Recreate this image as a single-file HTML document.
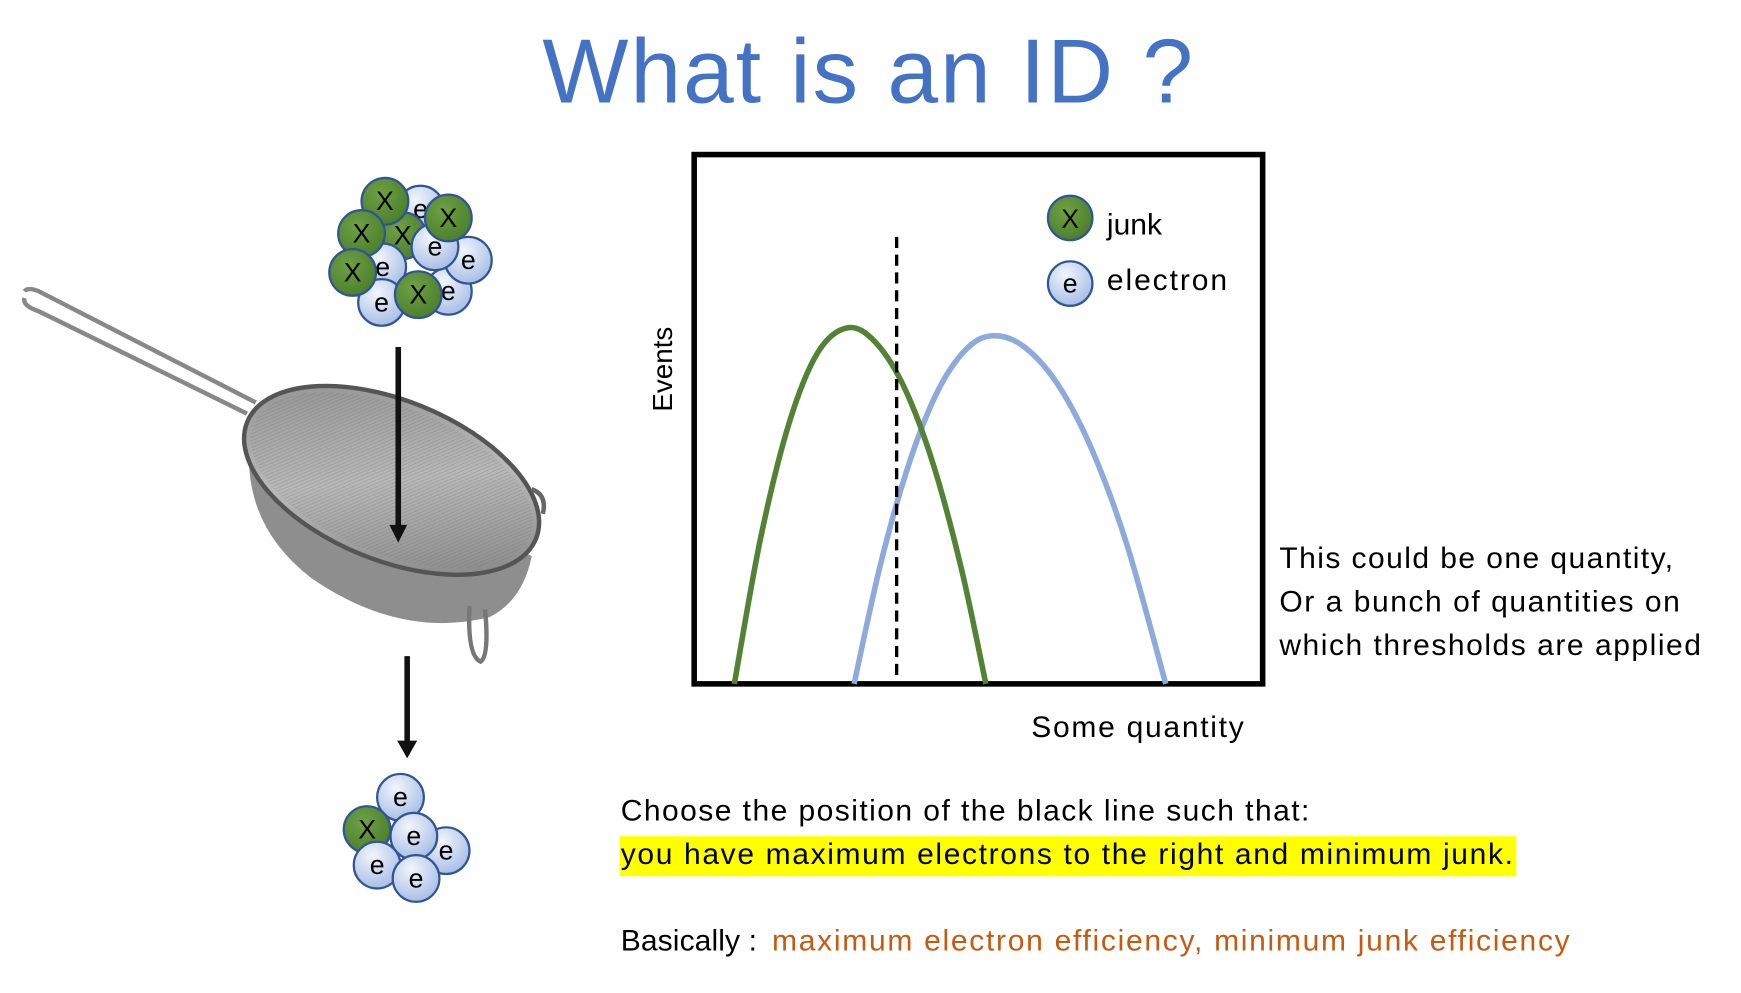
<!DOCTYPE html>
<html><head><meta charset="utf-8"><style>
html,body{margin:0;padding:0;background:#fff;width:1741px;height:993px;overflow:hidden}
svg{display:block}
text{font-family:"Liberation Sans",sans-serif}
</style></head><body>
<svg id="s" width="1741" height="993" viewBox="0 0 1565 893" preserveAspectRatio="none">
<defs>
<radialGradient id="gG" cx="40%" cy="35%" r="70%"><stop offset="0" stop-color="#6fa244"/><stop offset="1" stop-color="#497d2a"/></radialGradient>
<radialGradient id="gB" cx="40%" cy="30%" r="70%"><stop offset="0" stop-color="#f2f5fc"/><stop offset="1" stop-color="#a9bfe6"/></radialGradient>
<linearGradient id="mesh" x1="0" y1="0" x2="1" y2="1"><stop offset="0" stop-color="#8a8a8a"/><stop offset=".5" stop-color="#b9b9b9"/><stop offset="1" stop-color="#7a7a7a"/></linearGradient>
<pattern id="hatch" width="4" height="4" patternUnits="userSpaceOnUse"><path d="M0 4L4 0" stroke="#777" stroke-width=".6"/></pattern>
</defs>
<text x="780" y="92" text-anchor="middle" font-size="82" textLength="585" fill="#4472c4">What is an ID ?</text>

<g>
<path d="M22 262 Q25 258 35 262 L230 362" stroke="#888" stroke-width="4" fill="none"/>
<path d="M22 268 Q20 275 35 280 L222 372" stroke="#888" stroke-width="4" fill="none"/>
<path d="M225 390 Q215 470 280 520 Q360 575 440 555 Q470 540 478 500 Z" fill="#8e8e8e"/>
<ellipse cx="352" cy="432" rx="140" ry="72" transform="rotate(22 352 432)" fill="url(#mesh)" stroke="#555" stroke-width="4"/>
<ellipse cx="352" cy="432" rx="134" ry="66" transform="rotate(22 352 432)" fill="url(#hatch)" opacity=".5"/>
<path d="M478 440 Q492 445 488 462" stroke="#666" stroke-width="4" fill="none"/>
<path d="M422 545 Q420 590 432 595 Q440 590 436 548" stroke="#777" stroke-width="4" fill="none"/>
</g>
<g><line x1="358" y1="312" x2="358" y2="475" stroke="#111" stroke-width="5"/><polygon points="350,472 366,472 358,488" fill="#111"/></g>
<g><line x1="366" y1="590" x2="366" y2="668" stroke="#111" stroke-width="5"/><polygon points="357,666 375,666 366,682" fill="#111"/></g>
<g id="clusters" font-size="24" text-anchor="middle"></g>

<g>
<rect x="624" y="139" width="511" height="476" fill="#fff" stroke="#000" stroke-width="5"/>
<g id="curves"></g>
<line x1="806" y1="213" x2="806" y2="614" stroke="#000" stroke-width="3" stroke-dasharray="10,6"/>
<g><circle cx="962" cy="196" r="20" fill="url(#gG)" stroke="#2f5597" stroke-width="2"/><text x="962" y="205" font-size="24" text-anchor="middle">X</text><text x="995" y="211" font-size="27">junk</text></g>
<g><circle cx="962" cy="255" r="20" fill="url(#gB)" stroke="#2f5597" stroke-width="2"/><text x="962" y="263" font-size="24" text-anchor="middle">e</text><text x="995" y="261" font-size="27" textLength="108">electron</text></g>
<text transform="translate(604 332) rotate(-90)" text-anchor="middle" font-size="25">Events</text>
<text x="927" y="663" font-size="27" textLength="191">Some quantity</text>
</g>
<g font-size="27">
<text x="1150" y="511" textLength="354">This could be one quantity,</text>
<text x="1150" y="550" textLength="360">Or a bunch of quantities on</text>
<text x="1150" y="589" textLength="379">which thresholds are applied</text>
</g>
<text x="558" y="738" font-size="27" textLength="619">Choose the position of the black line such that:</text>
<rect x="557" y="752" width="806" height="36" fill="#ffff00"/>
<text x="558" y="777" font-size="27" textLength="802">you have maximum electrons to the right and minimum junk.</text>
<text x="558" y="855" font-size="27"><tspan textLength="130">Basically : </tspan><tspan x="694" fill="#c55a11" textLength="717">maximum electron efficiency, minimum junk efficiency</tspan></text>
</svg>
<script>
const junkX=[7.4,12,17,22,27.2,32,37,42,47,51.3];
const junkY=[0,27.5,49.2,62.4,67,64.3,55.9,41.7,21.8,0];
const elecX=[28.3,33,38,43,48,52.6,58,64,70,76,82.7];
const elecY=[0,22.9,41.8,55.3,63.1,65.5,63.4,56.1,43.6,25.9,0];
const NS='http://www.w3.org/2000/svg';
function sx(v){return 622+v/100*515;}
function sy(v){return 615-v/100*478;}
function smooth(xs,ys){
  const p=xs.map((x,i)=>[sx(x),sy(ys[i])]);
  let d='M'+p[0][0]+' '+p[0][1];
  for(let i=0;i<p.length-1;i++){
    const p0=p[i-1]||p[i],p1=p[i],p2=p[i+1],p3=p[i+2]||p2;
    d+=' C'+(p1[0]+(p2[0]-p0[0])/6)+' '+(p1[1]+(p2[1]-p0[1])/6)+' '+(p2[0]-(p3[0]-p1[0])/6)+' '+(p2[1]-(p3[1]-p1[1])/6)+' '+p2[0]+' '+p2[1];
  }
  return d;
}
const cg=document.getElementById('curves');
const ePath=document.createElementNS(NS,'path');
ePath.setAttribute('d',smooth(elecX,elecY));ePath.setAttribute('stroke','#8eaadb');ePath.setAttribute('stroke-width','5');ePath.setAttribute('fill','none');


cg.appendChild(ePath);
const jPath=document.createElementNS(NS,'path');
jPath.setAttribute('d',smooth(junkX,junkY));jPath.setAttribute('stroke','#548235');jPath.setAttribute('stroke-width','5');jPath.setAttribute('fill','none');


cg.appendChild(jPath);
const beforeBalls=[[378,188,'e'],[362,212,'X'],[344,240,'e'],[343,272,'e'],[403,262,'e'],[421,234,'e'],[391,222,'e'],[346,181,'X'],[325,210,'X'],[403,196,'X'],[317,245,'X'],[376,265,'X']];
const afterBalls=[[360,717,'e'],[330,746,'X'],[401,765,'e'],[372,752,'e'],[339,778,'e'],[374,790,'e']];
const cl=document.getElementById('clusters');
function ball(c,name){
  const gg=document.createElementNS(NS,'g');
  
  
  const ci=document.createElementNS(NS,'circle');
  ci.setAttribute('cx',c[0]);ci.setAttribute('cy',c[1]);ci.setAttribute('r','21');
  ci.setAttribute('fill',c[2]==='X'?'url(#gG)':'url(#gB)');ci.setAttribute('stroke','#2f5597');ci.setAttribute('stroke-width','2');
  const t=document.createElementNS(NS,'text');
  t.setAttribute('x',c[0]);t.setAttribute('y',c[1]+8);t.textContent=c[2];
  gg.appendChild(ci);gg.appendChild(t);cl.appendChild(gg);
}
beforeBalls.forEach(c=>ball(c,'particle-before'));
afterBalls.forEach(c=>ball(c,'particle-after'));
</script>
</body></html>
